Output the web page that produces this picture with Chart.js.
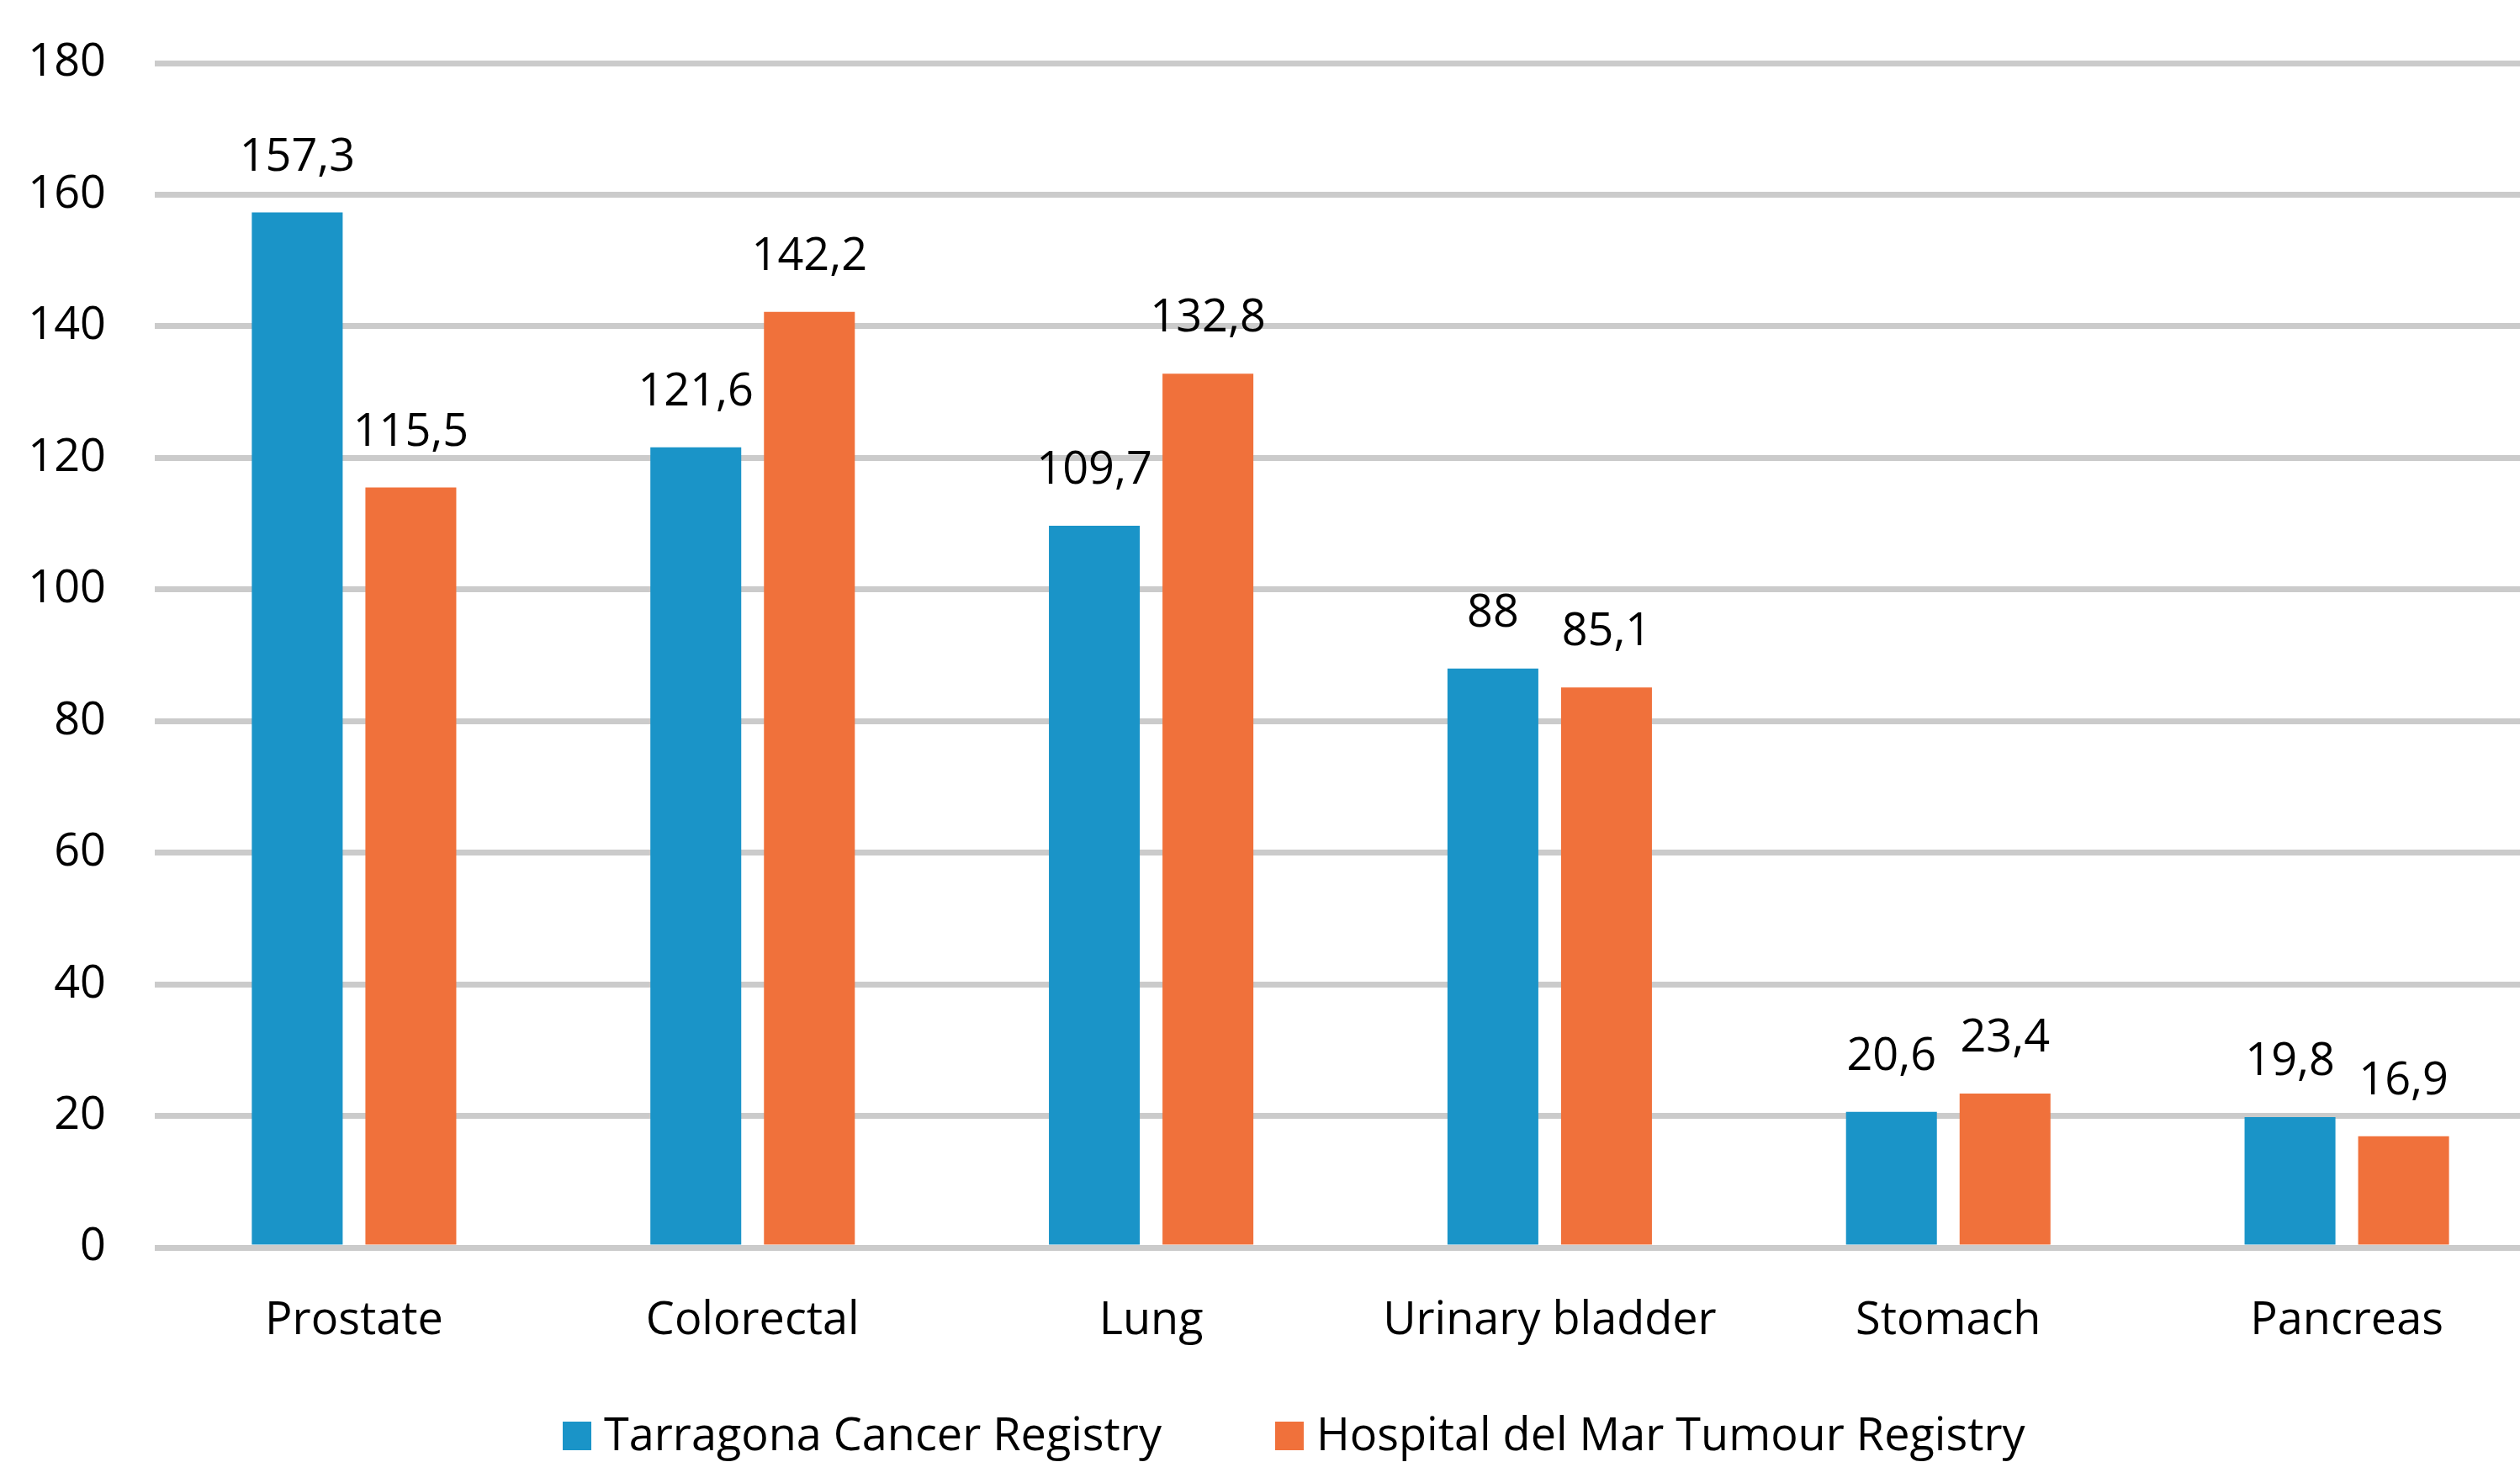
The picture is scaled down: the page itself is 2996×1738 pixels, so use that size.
<!DOCTYPE html>
<html>
<head>
<meta charset="utf-8">
<script src="https://cdn.jsdelivr.net/npm/chart.js@4/dist/chart.umd.min.js"></script>
<style>
    html, body { margin: 0; padding: 0; background: #fff; overflow: hidden; }
    #wrap { width: 3030px; height: 1738px; position: relative; }
</style>
</head>
<body>
<div id="wrap"><canvas id="chart"></canvas></div>
<script>
// Data
const categories = ["Prostate", "Colorectal", "Lung", "Urinary bladder", "Stomach", "Pancreas"];
const seriesNames = ["Tarragona Cancer Registry", "Hospital del Mar Tumour Registry"];
const tarragona = [157.3, 121.6, 109.7, 88, 20.6, 19.8];
const hospitalDelMar = [115.5, 142.2, 132.8, 85.1, 23.4, 16.9];
const yTicks = [0, 20, 40, 60, 80, 100, 120, 140, 160, 180];

const colors = ["#1a94c8", "#f0713b"];
const FONT = "'Open Sans', 'Noto Sans', sans-serif";
const FS = 54;

const fmt = v => String(v).replace(".", ",");

// value labels above the bars
const barLabels = {
    id: "barLabels",
    afterDatasetsDraw(chart) {
        const ctx = chart.ctx;
        ctx.save();
        ctx.font = `${FS}px ${FONT}`;
        ctx.fillStyle = "#000";
        ctx.textAlign = "center";
        ctx.textBaseline = "alphabetic";
        chart.data.datasets.forEach((ds, i) => {
            chart.getDatasetMeta(i).data.forEach((bar, j) => {
                ctx.fillText(fmt(ds.data[j]), bar.x, bar.y - 50);
            });
        });
        ctx.restore();
    }
};

// legend drawn at the bottom
const bottomLegend = {
    id: "bottomLegend",
    afterDraw(chart) {
        const ctx = chart.ctx;
        ctx.save();
        ctx.font = `${FS}px ${FONT}`;
        ctx.textBaseline = "middle";
        ctx.textAlign = "left";
        const y = 1707;
        let x = 669;
        chart.data.datasets.forEach((ds, i) => {
            ctx.fillStyle = ds.backgroundColor;
            ctx.fillRect(x, y - 17, 34, 34);
            x += 34 + 15;
            ctx.fillStyle = "#000";
            ctx.fillText(ds.label, x, y + 2);
            x += ctx.measureText(ds.label).width + 135;
        });
        ctx.restore();
    }
};

new Chart(document.getElementById("chart"), {
    type: "bar",
    data: {
        labels: categories,
        datasets: [
            { label: seriesNames[0], data: tarragona, backgroundColor: colors[0] },
            { label: seriesNames[1], data: hospitalDelMar, backgroundColor: colors[1] }
        ]
    },
    options: {
        responsive: true,
        maintainAspectRatio: false,
        devicePixelRatio: 1,
        animation: false,
        categoryPercentage: 0.57,
        barPercentage: 0.8,
        layout: { padding: { top: 75, left: 0, right: 3, bottom: 135 } },
        plugins: {
            legend: { display: false },
            tooltip: { enabled: false }
        },
        scales: {
            x: {
                grid: { display: false, drawTicks: false },
                border: { display: false },
                ticks: { color: "#000", font: { family: FONT, size: FS }, padding: 55 },
                afterFit(scale) { scale.height = 120; }
            },
            y: {
                min: 0,
                max: 180,
                afterBuildTicks(scale) { scale.ticks = yTicks.map(v => ({ value: v })); },
                grid: { color: "#cbcbcb", lineWidth: 7, drawTicks: false },
                border: { display: false },
                ticks: { color: "#000", font: { family: FONT, size: FS }, padding: 58 },
                afterFit(scale) {
                    scale.width = 184;
                    scale.paddingTop = 0;
                    scale.paddingBottom = 0;
                }
            }
        }
    },
    plugins: [barLabels, bottomLegend]
});
</script>
</body>
</html>
